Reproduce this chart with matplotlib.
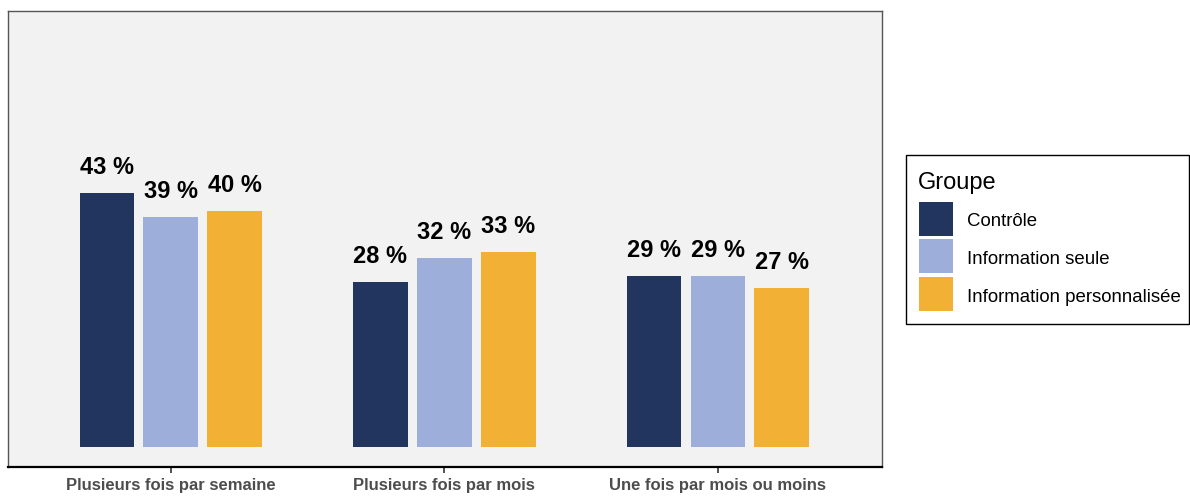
import matplotlib
matplotlib.use("Agg")
import matplotlib.pyplot as plt
from matplotlib.patches import Rectangle
import numpy as np

plt.rcParams['font.family'] = ['Liberation Sans', 'DejaVu Sans']

categories = ["Plusieurs fois par semaine", "Plusieurs fois par mois",
              "Une fois par mois ou moins"]
groups = ["Contrôle", "Information seule", "Information personnalisée"]
controle = [43, 28, 29]
info_seule = [39, 32, 29]
info_perso = [40, 33, 27]
colors = ["#22355e", "#9daedb", "#f2b035"]

W, H = 1190, 496


def fx(px):
    return px / W


def fy(py):
    return 1 - py / H


fig = plt.figure(figsize=(W / 100, H / 100), dpi=100)
ax = fig.add_axes([fx(8), fy(467), 874 / W, 456 / H])
ax.set_facecolor("#f2f2f2")

x = np.arange(1, len(categories) + 1)
dodge = 0.7 / 3
width = 0.6 / 3
for i, (vals, col) in enumerate(zip([controle, info_seule, info_perso], colors)):
    pos = x + (i - 1) * dodge
    ax.bar(pos, vals, width=width, color=col, zorder=2)
    for p, v in zip(pos, vals):
        ax.text(p, v + 2.3, "%d %%" % v, ha="center", va="bottom",
                fontsize=17, fontweight="bold", color="black")

ax.set_xlim(0.405, 3.6)
ax.set_ylim(-3.38, 73.8)
ax.set_yticks([])
ax.set_xticks(x)
ax.set_xticklabels(categories, fontsize=12, fontweight="bold", color="#4d4d4d")
ax.tick_params(axis="x", length=4, width=1.2, color="#333333", pad=4)

for side in ["left", "top", "right"]:
    ax.spines[side].set_color("#555555")
    ax.spines[side].set_linewidth(1.0)
ax.spines["bottom"].set_color("black")
ax.spines["bottom"].set_linewidth(1.6)

# legend drawn by hand: frame, title, colour keys and labels
fig.add_artist(Rectangle((fx(906), fy(324)), (1189 - 906) / W, (324 - 155) / H,
                         transform=fig.transFigure, facecolor="white",
                         edgecolor="black", linewidth=1.0))
fig.text(fx(918), fy(183), "Groupe", fontsize=17, va="center", ha="left")
key_tops = [202, 239, 277]
for top, col, lab in zip(key_tops, colors, groups):
    fig.add_artist(Rectangle((fx(919), fy(top + 34)), 34 / W, 34 / H,
                             transform=fig.transFigure, facecolor=col,
                             edgecolor="none"))
    fig.text(fx(967), fy(top + 20), lab, fontsize=13.4, va="center", ha="left")

fig.savefig("out.png", dpi=100)
